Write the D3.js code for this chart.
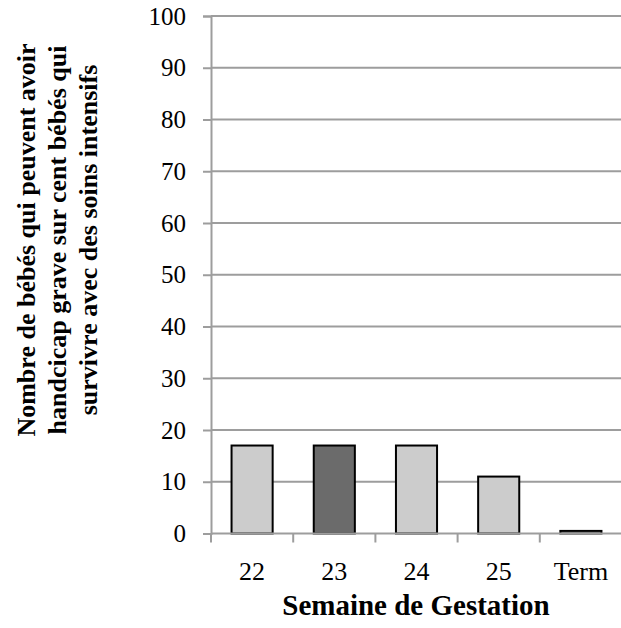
<!DOCTYPE html>
<html><head><meta charset="utf-8">
<script src="https://cdn.jsdelivr.net/npm/d3@7"></script>
<style>body{margin:0;background:#fff}svg{display:block}</style>
</head><body>
<script>
const categories = ["22", "23", "24", "25", "Term"];
const values = [17, 17, 17, 11, 0.5];
const barColors = ["#cccccc", "#6b6b6b", "#cccccc", "#cccccc", "#cccccc"];
const yTicks = [0, 10, 20, 30, 40, 50, 60, 70, 80, 90, 100];
const yTitleLines = ["Nombre de bébés qui peuvent avoir", "handcicap grave sur cent bébés qui", "survivre avec des soins intensifs"];
const xTitle = "Semaine de Gestation";

const W = 621, H = 628;
const svg = d3.select("body").append("svg").attr("width", W).attr("height", H);
const pLeft = 211, pRight = 622, pTop = 16, pBottom = 533.5;
const x = d3.scaleBand().domain(categories).range([pLeft, pRight]).paddingInner(0.5).paddingOuter(0.25);
const xt = d3.scaleBand().domain(categories).range([pLeft, pRight]);
const y = d3.scaleLinear().domain([0, 100]).range([pBottom, pTop]);
const grid = "#9d9d9d";
const serif = "'Liberation Serif', 'DejaVu Serif', serif";

// gridlines
svg.append("g").selectAll("line").data(yTicks.filter(d => d > 0)).join("line")
  .attr("x1", pLeft).attr("x2", W).attr("y1", d => y(d)).attr("y2", d => y(d))
  .attr("stroke", grid).attr("stroke-width", 2);

// y axis
const yAxis = d3.axisLeft(y).tickValues(yTicks).tickSize(8).tickPadding(17);
const gy = svg.append("g").attr("transform", `translate(${pLeft},0)`).call(yAxis);
gy.attr("font-family", null).attr("font-size", null);
gy.select(".domain").attr("stroke", grid).attr("stroke-width", 2);
gy.selectAll(".tick line").attr("stroke", grid).attr("stroke-width", 2);
gy.selectAll("text").style("font-family", serif).style("font-size", "25px").attr("fill", "#000");

// bars
svg.append("g").selectAll("rect").data(categories).join("rect")
  .attr("x", d => x(d)).attr("width", x.bandwidth())
  .attr("y", (d, i) => y(values[i])).attr("height", (d, i) => y(0) - y(values[i]))
  .attr("fill", (d, i) => barColors[i]).attr("stroke", "#000").attr("stroke-width", 2);

// x axis
svg.append("line").attr("x1", pLeft).attr("x2", W).attr("y1", y(0)).attr("y2", y(0))
  .attr("stroke", grid).attr("stroke-width", 2);
svg.append("g").selectAll("line").data(categories).join("line")
  .attr("x1", d => xt(d)).attr("x2", d => xt(d)).attr("y1", y(0)).attr("y2", y(0) + 9)
  .attr("stroke", grid).attr("stroke-width", 2);
svg.append("g").selectAll("text").data(categories).join("text")
  .attr("x", d => x(d) + x.bandwidth() / 2).attr("y", 580)
  .attr("text-anchor", "middle").style("font-family", serif).style("font-size", "26px").text(d => d);

// titles
svg.append("text").attr("x", 416).attr("y", 615).attr("text-anchor", "middle")
  .style("font-family", serif).style("font-weight", "bold").style("font-size", "29px").text(xTitle);

const yt = svg.append("text").attr("transform", "translate(0,240) rotate(-90)")
  .attr("text-anchor", "middle").style("font-family", serif).style("font-weight", "bold").style("font-size", "26px");
yTitleLines.forEach((t, i) => {
  yt.append("tspan").attr("x", 0).attr("y", 35 + i * 31).text(t);
});
</script>
</body></html>
